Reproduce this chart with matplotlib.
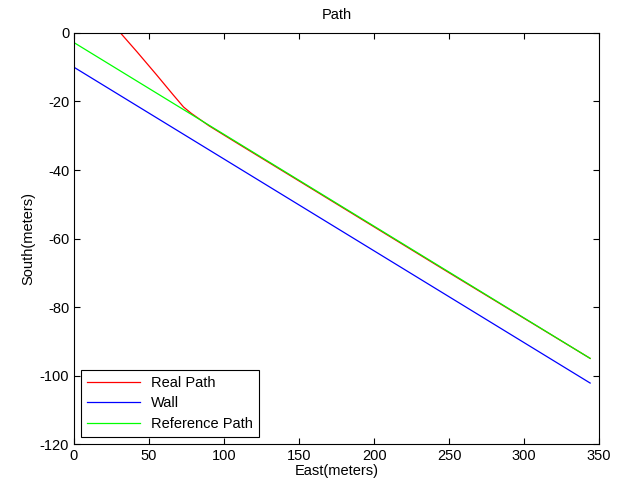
import matplotlib
matplotlib.use("Agg")
import matplotlib.pyplot as plt

plt.rcParams['font.family'] = ['Liberation Sans', 'DejaVu Sans']
plt.rcParams['axes.unicode_minus'] = False

# data
ref_east = [0, 344]
ref_south = [-2.8, -95.0]

wall_east = [0, 344]
wall_south = [-10.0, -102.2]

real_east = [31, 42, 55, 66, 73, 78, 90, 110, 150, 250, 344]
real_south = [0, -5.5, -12.2, -18.0, -21.6, -23.4, -27.1, -32.5, -43.2, -70.0, -95.0]

fig = plt.figure(figsize=(6.34, 4.91), dpi=100)
ax = fig.add_axes([0.1167, 0.0957, 0.8283, 0.8371])

ax.plot(real_east, real_south, color='red', lw=0.9, label='Real Path')
ax.plot(wall_east, wall_south, color='blue', lw=0.9, label='Wall')
ax.plot(ref_east, ref_south, color='#00ff00', lw=0.9, label='Reference Path')

ax.set_xlim(0, 350)
ax.set_ylim(-120, 0)
ax.set_xticks(range(0, 351, 50))
ax.set_yticks(range(-120, 1, 20))
ax.tick_params(direction='in', top=True, right=True, labelsize=10.5, length=4)
ax.set_title("Path", fontsize=10.5, pad=10)
ax.set_xlabel("East(meters)", fontsize=10.5, labelpad=1)
ax.set_ylabel("South(meters)", fontsize=10.5, labelpad=3)

leg = ax.legend(loc='lower left', fontsize=10.5, fancybox=False, framealpha=1,
                edgecolor='black', borderaxespad=0.5, handlelength=3.6,
                labelspacing=0.45)
leg.get_frame().set_linewidth(0.8)

fig.savefig("out.png", dpi=100)
